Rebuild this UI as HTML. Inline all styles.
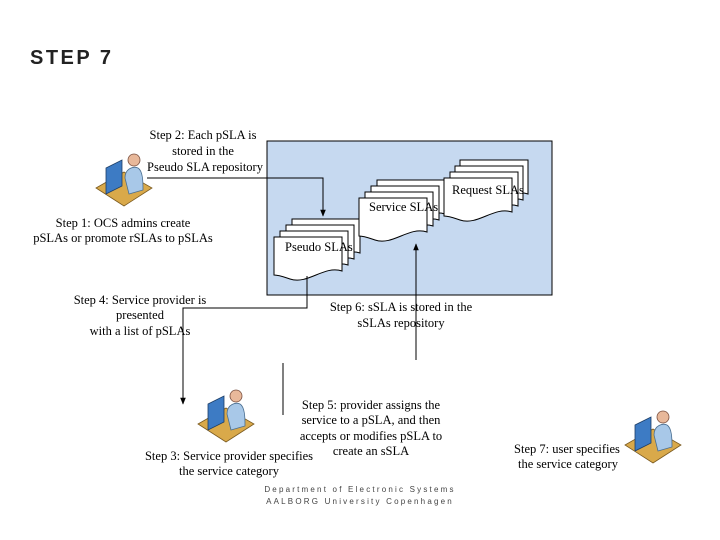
<!DOCTYPE html>
<html><head><meta charset="utf-8"><style>
body{margin:0;background:#fff;width:720px;height:540px;overflow:hidden}
svg{display:block}
.t{font-family:"Liberation Serif",serif;font-size:12.5px;fill:#000}
</style></head><body>
<svg width="720" height="540" xmlns="http://www.w3.org/2000/svg">
<defs>
<marker id="a" viewBox="0 0 10 10" refX="9" refY="5" markerWidth="7" markerHeight="7" orient="auto"><path d="M0,1L10,5L0,9z" fill="#000"/></marker>
<g id="doc"><path d="M0,0H68V34C50,28 34,48 16,42 10,40 5,38 0,38Z" fill="#fff" stroke="#000" stroke-width="1"/></g>
<g id="pc">
<path d="M0,24L28,8L56,24L28,42Z" fill="#d9a94a" stroke="#7a5a20" stroke-width="0.8"/>
<path d="M10,4L26,-4V22L10,30Z" fill="#3d7bc4" stroke="#1e3e66" stroke-width="0.8"/>
<path d="M29,14C29,4 38,2 42,4C47,7 47,18 47,26L33,30Z" fill="#a8c8e8" stroke="#4a6e90" stroke-width="0.8"/>
<circle cx="38" cy="-4" r="6" fill="#e8b89a" stroke="#7a5040" stroke-width="0.8"/>
</g>
</defs>
<text x="30" y="64" font-family="Liberation Sans,sans-serif" font-size="20" font-weight="bold" letter-spacing="2.5" fill="#222">STEP 7</text>
<rect x="267" y="141" width="285" height="154" fill="#c6d9f0" stroke="#000" stroke-width="1"/>
<use href="#doc" x="292" y="219"/><use href="#doc" x="286" y="225"/><use href="#doc" x="280" y="231"/><use href="#doc" x="274" y="237"/>
<text class="t" x="285" y="251" font-size="11">Pseudo SLAs</text>
<use href="#doc" x="377" y="180"/><use href="#doc" x="371" y="186"/><use href="#doc" x="365" y="192"/><use href="#doc" x="359" y="198"/>
<text class="t" x="369" y="211" font-size="11">Service SLAs</text>
<use href="#doc" x="460" y="160"/><use href="#doc" x="455" y="166"/><use href="#doc" x="450" y="172"/><use href="#doc" x="444" y="178"/>
<text class="t" x="452" y="194" font-size="11">Request SLAs</text>
<path d="M147,178H323V216" fill="none" stroke="#000" marker-end="url(#a)"/>
<path d="M307,276V308H183V404" fill="none" stroke="#000" marker-end="url(#a)"/>
<path d="M416,360V244" fill="none" stroke="#000" marker-end="url(#a)"/>
<path d="M283,363V415" fill="none" stroke="#000"/>
<use href="#pc" x="96" y="164"/>
<use href="#pc" x="198" y="400"/>
<use href="#pc" x="625" y="421"/>
<g class="t" text-anchor="middle">
<text x="203" y="139">Step 2: Each pSLA is</text>
<text x="203" y="155">stored in the</text>
<text x="205" y="171">Pseudo SLA repository</text>
<text x="123" y="227">Step 1: OCS admins create</text>
<text x="123" y="242">pSLAs or promote rSLAs to pSLAs</text>
<text x="140" y="304">Step 4: Service provider is</text>
<text x="140" y="319">presented</text>
<text x="140" y="335">with a list of pSLAs</text>
<text x="401" y="311">Step 6: sSLA is stored in the</text>
<text x="401" y="327">sSLAs repository</text>
<text x="371" y="409">Step 5: provider assigns the</text>
<text x="371" y="424">service to a pSLA, and then</text>
<text x="371" y="440">accepts or modifies pSLA to</text>
<text x="371" y="455">create an sSLA</text>
<text x="229" y="460">Step 3: Service provider specifies</text>
<text x="229" y="475">the service category</text>
<text x="567" y="453">Step 7: user specifies</text>
<text x="568" y="468">the service category</text>
</g>
<g font-family="Liberation Sans,sans-serif" font-size="8" fill="#444" letter-spacing="2.2" text-anchor="middle">
<text x="360" y="492">Department of Electronic Systems</text>
<text x="360" y="504">AALBORG University Copenhagen</text>
</g>
</svg>
</body></html>
